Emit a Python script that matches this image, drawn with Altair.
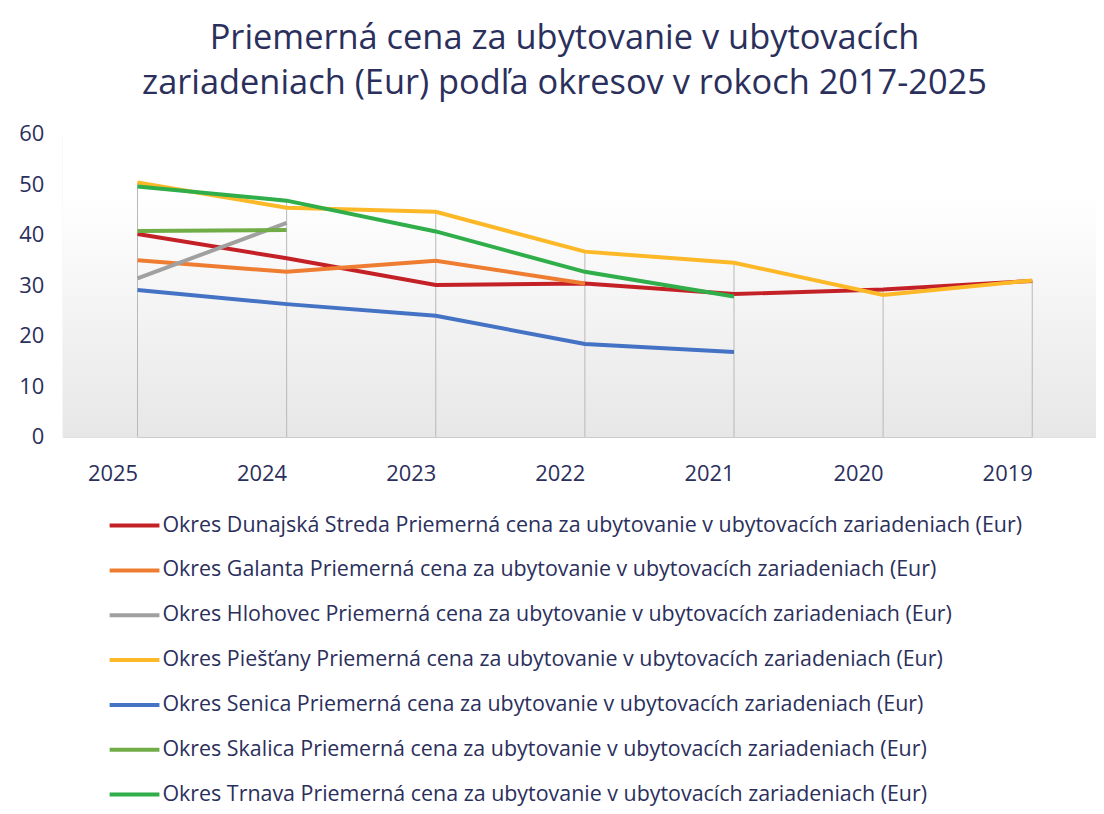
import altair as alt
import pandas as pd

years = ["2025", "2024", "2023", "2022", "2021", "2020", "2019"]
suffix = " Priemerná cena za ubytovanie v ubytovacích zariadeniach (Eur)"
districts = ["Okres Dunajská Streda", "Okres Galanta", "Okres Hlohovec", "Okres Piešťany",
             "Okres Senica", "Okres Skalica", "Okres Trnava"]
colors = ["#c42127", "#ee7d31", "#a0a0a0", "#fdb827", "#4472c4", "#70ad47", "#2fae4a"]

dunajska = [40.2, 35.4, 30.1, 30.4, 28.3, 29.2, 30.9]
galanta = [35.0, 32.7, 34.9, 30.4, None, None, None]
hlohovec = [31.4, 42.4, None, None, None, None, None]
piestany = [50.4, 45.4, 44.6, 36.7, 34.5, 28.1, 31.0]
senica = [29.1, 26.3, 24.0, 18.4, 16.8, None, None]
skalica = [40.8, 41.0, None, None, None, None, None]
trnava = [49.6, 46.8, 40.7, 32.7, 27.8, None, None]

series = [dunajska, galanta, hlohovec, piestany, senica, skalica, trnava]
rows = []
for d, vals in zip(districts, series):
    for y, v in zip(years, vals):
        if v is not None:
            rows.append({"okres": d + suffix, "rok": y, "cena": v})
df = pd.DataFrame(rows)
labels = [d + suffix for d in districts]

W, H = 1037, 304
TEXT = "#2b2f5c"
FONT = "Open Sans"

xscale = alt.Scale(type="point", domain=years, range=[75, 973], padding=0)
yscale = alt.Scale(domain=[0, 60])

bg = alt.Chart(pd.DataFrame({"a": [0]})).mark_rect(
    color=alt.Gradient(
        gradient="linear", x1=0, y1=0, x2=0, y2=1,
        stops=[alt.GradientStop(color="#ffffff", offset=0.2),
               alt.GradientStop(color="#e7e7e7", offset=1)]
    )
).encode(x=alt.value(0), x2=alt.value(W), y=alt.value(0), y2=alt.value(H))

drops = alt.Chart(df).transform_aggregate(
    top="max(cena)", groupby=["rok"]
).transform_calculate(zero="0").mark_rule(color="#b8b8b8", strokeWidth=1).encode(
    x=alt.X("rok:O", scale=xscale, sort=years),
    y=alt.Y("top:Q", scale=yscale),
    y2="zero:Q",
)

lines = alt.Chart(df).mark_line(strokeWidth=4).encode(
    x=alt.X("rok:O", scale=xscale, sort=years,
            axis=alt.Axis(title=None, labelAngle=0, domain=True, domainColor="#c8c8c8",
                          ticks=False, labelFontSize=22, labelColor=TEXT, labelPadding=37,
                          labelFont=FONT)),
    y=alt.Y("cena:Q", scale=yscale,
            axis=alt.Axis(title=None, values=[0, 10, 20, 30, 40, 50, 60], grid=False,
                          domain=False, ticks=False, labelFontSize=22, labelColor=TEXT,
                          labelPadding=19, labelFont=FONT)),
    color=alt.Color("okres:N", scale=alt.Scale(domain=labels, range=colors),
                    legend=alt.Legend(title=None, orient="none", legendX=45, legendY=366,
                                      direction="vertical", symbolType="stroke",
                                      symbolSize=2500, symbolStrokeWidth=4,
                                      labelFontSize=21.5, labelColor=TEXT, labelFont=FONT,
                                      labelOffset=1, rowPadding=7, labelLimit=1000)),
)

chart = alt.layer(bg, drops, lines).properties(
    width=W, height=H,
    title=alt.Title(
        ["Priemerná cena za ubytovanie v ubytovacích",
         "zariadeniach (Eur) podľa okresov  v rokoch 2017-2025"],
        fontSize=34.5, font=FONT, color=TEXT, fontWeight="normal",
        anchor="middle", lineHeight=45, offset=22, dx=-15,
    ),
    autosize=alt.AutoSizeParams(type="none"),
    padding={"left": 55, "top": 125, "right": 0, "bottom": 377},
).configure_view(stroke=None).configure(background="white")

chart.save("out.html", embed_options={"renderer": "svg", "actions": False})
